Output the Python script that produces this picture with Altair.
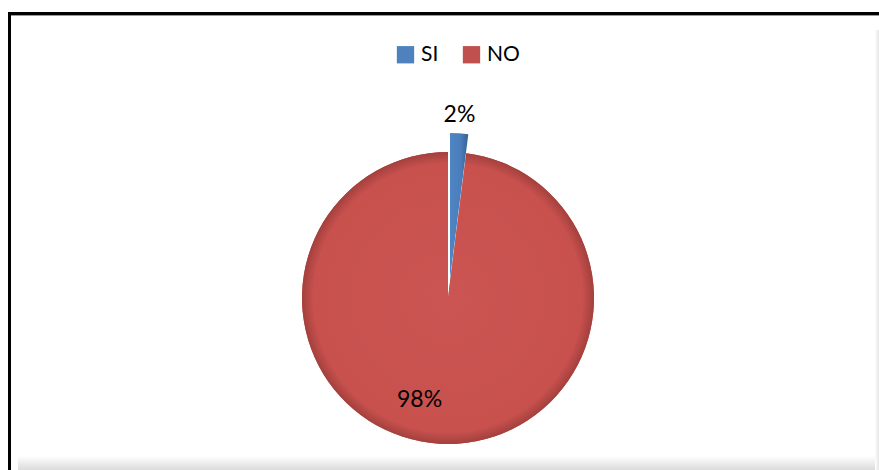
import altair as alt
import pandas as pd

categories = ["SI", "NO"]
values = [2, 98]
labels = ["2%", "98%"]
order = [0, 1]

df = pd.DataFrame({"cat": categories, "value": values, "label": labels, "order": order})

FONT = "Lato"
W, H = 879, 470
CX, CY, R = 448, 298, 146

base = alt.Chart(df).encode(
    theta=alt.Theta("value:Q", stack=True),
    order=alt.Order("order:Q"),
)

is_si = alt.datum.cat == "SI"

pie_flat = base.mark_arc(radius=R).encode(
    x=alt.value(CX), y=alt.value(CY),
    color=alt.Color("cat:N",
                    scale=alt.Scale(domain=categories, range=["#4F81BD", "#C0504D"]),
                    legend=alt.Legend(orient="none", legendX=395, legendY=44,
                                      direction="horizontal", title=None,
                                      symbolType="square", symbolSize=300,
                                      symbolOpacity=1, symbolStrokeWidth=0,
                                      labelFont=FONT, labelFontSize=21,
                                      labelColor="#000000", labelOffset=5,
                                      columnPadding=22)),
    opacity=alt.condition(is_si, alt.value(0), alt.value(1)),
)

no_grad = {
    "gradient": "radial",
    "x1": 0.5, "y1": 0.5, "r1": 0,
    "x2": 0.5, "y2": 0.5, "r2": 0.5,
    "stops": [
        {"offset": 0, "color": "#CB5552"},
        {"offset": 0.92, "color": "#C8514E"},
        {"offset": 1, "color": "#A3403D"},
    ],
}
pie_no = base.mark_arc(radius=R, fill=no_grad).encode(
    x=alt.value(CX), y=alt.value(CY),
    opacity=alt.condition(is_si, alt.value(0), alt.value(1)),
)

si_grad = {
    "gradient": "linear",
    "x1": 0, "y1": 0, "x2": 1, "y2": 0,
    "stops": [
        {"offset": 0, "color": "#4F85C4"},
        {"offset": 0.6, "color": "#4A7DBA"},
        {"offset": 1, "color": "#36608F"},
    ],
}
pie_si = base.mark_arc(radius=R, fill=si_grad).encode(
    x=alt.value(CX + 2), y=alt.value(CY - 19),
    opacity=alt.condition(is_si, alt.value(1), alt.value(0)),
)

lbl_si = base.mark_text(radius=183, font=FONT, fontSize=23, color="#000000").encode(
    x=alt.value(CX), y=alt.value(CY),
    text=alt.condition(is_si, "label:N", alt.value("")),
)
lbl_no = base.mark_text(radius=102, dx=-22, font=FONT, fontSize=23, color="#000000").encode(
    x=alt.value(CX), y=alt.value(CY),
    text=alt.condition(is_si, alt.value(""), "label:N"),
)

shadow_grad = {
    "gradient": "linear",
    "x1": 0, "y1": 0, "x2": 0, "y2": 1,
    "stops": [
        {"offset": 0, "color": "#FFFFFF"},
        {"offset": 1, "color": "#DCDCDC"},
    ],
}
shadow = alt.Chart(df).mark_rect(fill=shadow_grad).encode(
    x=alt.value(18), x2=alt.value(W), y=alt.value(456), y2=alt.value(H),
)
right_grad = {
    "gradient": "linear",
    "x1": 0, "y1": 0, "x2": 1, "y2": 0,
    "stops": [
        {"offset": 0, "color": "#FFFFFF"},
        {"offset": 1, "color": "#E4E4E4"},
    ],
}
right_shadow = alt.Chart(df).mark_rect(fill=right_grad).encode(
    x=alt.value(875), x2=alt.value(W), y=alt.value(30), y2=alt.value(H),
)

left_border = alt.Chart(df).mark_rule(color="#000000", strokeWidth=3).encode(
    x=alt.value(9.5), y=alt.value(12), y2=alt.value(H),
)
top_border = alt.Chart(df).mark_rule(color="#000000", strokeWidth=3).encode(
    x=alt.value(8), x2=alt.value(W), y=alt.value(13.5),
)
top_gray = alt.Chart(df).mark_rule(color="#9A9A9A", strokeWidth=1).encode(
    x=alt.value(11), x2=alt.value(W), y=alt.value(15.5),
)

chart = alt.layer(
    shadow, right_shadow, pie_flat, pie_no, pie_si, lbl_si, lbl_no,
    left_border, top_border, top_gray,
).properties(
    width=W, height=H,
    padding=0,
    autosize=alt.AutoSizeParams(type="none"),
    background="#FFFFFF",
).configure_view(stroke=None)

chart.save("out.html", embed_options={"renderer": "svg", "actions": False})
